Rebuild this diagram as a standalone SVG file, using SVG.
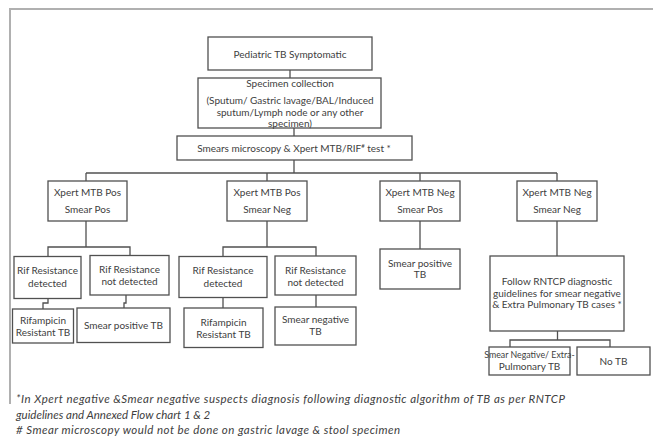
<svg xmlns="http://www.w3.org/2000/svg" width="653" height="436" viewBox="0 0 653 436">
<style>
.frame{fill:none;stroke:#b0b0b0;stroke-width:2}
.box{fill:#fff;stroke:#505050;stroke-width:1.3}
.ln{fill:none;stroke:#505050;stroke-width:1.3}
.t{font-family:Lato,"Open Sans",sans-serif;font-size:10px;fill:#404040;text-anchor:middle;dominant-baseline:central}
.sm{font-size:8.8px}
.fn{font-family:Lato,"Open Sans",sans-serif;font-style:italic;font-size:11.5px;fill:#404040;dominant-baseline:central}
</style>
<rect width="653" height="436" fill="#fff"/>
<polyline class="frame" points="10,404 10,9 653,9"/>
<g id="connectors">
<line class="ln" x1="290" y1="70" x2="290" y2="78"/>
<line class="ln" x1="294" y1="128" x2="294" y2="136"/>
<line class="ln" x1="294" y1="160" x2="294" y2="173"/>
<line class="ln" x1="86" y1="173" x2="557" y2="173"/>
<line class="ln" x1="86" y1="173" x2="86" y2="181"/>
<line class="ln" x1="267" y1="173" x2="267" y2="181"/>
<line class="ln" x1="420" y1="173" x2="420" y2="181"/>
<line class="ln" x1="557" y1="173" x2="557" y2="181"/>
<polyline class="ln" points="86,221 86,247"/>
<polyline class="ln" points="48,256 48,247 130,247 130,256"/>
<polyline class="ln" points="267,221 267,247"/>
<polyline class="ln" points="223,256 223,247 316,247 316,256"/>
<line class="ln" x1="420" y1="221" x2="420" y2="249"/>
<line class="ln" x1="557" y1="221" x2="557" y2="256"/>
<polyline class="ln" points="48,298 48,303 43,303 43,309"/>
<polyline class="ln" points="126,295 126,303 124,303 124,308"/>
<line class="ln" x1="223" y1="297" x2="223" y2="308"/>
<line class="ln" x1="316" y1="295" x2="316" y2="307"/>
<line class="ln" x1="557.5" y1="331" x2="557.5" y2="340"/>
<polyline class="ln" points="510,347 510,340 610,340 610,347"/>
</g>
<g id="n-symptomatic">
<rect class="box" x="208" y="37" width="164" height="33"/>
<text class="t" x="290" y="54">Pediatric TB Symptomatic</text>
</g>
<g id="n-specimen">
<rect class="box" x="198" y="78" width="183" height="50"/>
<text class="t" x="290" y="83">Specimen  collection</text>
<text class="t" x="290" y="100">(Sputum/ Gastric lavage/BAL/Induced</text>
<text class="t" x="290" y="111.7">sputum/Lymph node or any other</text>
<text class="t" x="290" y="123.3">specimen)</text>
</g>
<g id="n-test">
<rect class="box" x="177" y="136" width="235" height="24"/>
<text class="t" x="294" y="148">Smears microscopy &amp; Xpert MTB/RIF<tspan style="font-size:6px" dy="-3">#</tspan><tspan dy="3"> test *</tspan></text>
</g>
<g id="n-pos-pos">
<rect class="box" x="48" y="181" width="79" height="40"/>
<text class="t" x="87.5" y="192">Xpert MTB Pos</text>
<text class="t" x="87.5" y="209">Smear Pos</text>
</g>
<g id="n-pos-neg">
<rect class="box" x="227" y="181" width="80" height="40"/>
<text class="t" x="267" y="192">Xpert MTB Pos</text>
<text class="t" x="267" y="209">Smear Neg</text>
</g>
<g id="n-neg-pos">
<rect class="box" x="380" y="181" width="80" height="40"/>
<text class="t" x="420" y="192">Xpert MTB Neg</text>
<text class="t" x="420" y="209">Smear Pos</text>
</g>
<g id="n-neg-neg">
<rect class="box" x="517" y="181" width="80" height="40"/>
<text class="t" x="557" y="192">Xpert MTB Neg</text>
<text class="t" x="557" y="209">Smear Neg</text>
</g>
<g id="n-rif-det-1">
<rect class="box" x="14" y="256.5" width="67" height="42"/>
<text class="t" x="47.5" y="270">Rif Resistance</text>
<text class="t" x="47.5" y="282.5">detected</text>
</g>
<g id="n-rif-notdet-1">
<rect class="box" x="90" y="255.5" width="79" height="39.5"/>
<text class="t" x="129.5" y="269">Rif  Resistance</text>
<text class="t" x="129.5" y="281">not detected</text>
</g>
<g id="n-rif-det-2">
<rect class="box" x="179" y="256.5" width="88" height="41"/>
<text class="t" x="223" y="270">Rif Resistance</text>
<text class="t" x="223" y="282.5">detected</text>
</g>
<g id="n-rif-notdet-2">
<rect class="box" x="275" y="256" width="81" height="39"/>
<text class="t" x="315.5" y="270">Rif Resistance</text>
<text class="t" x="315.5" y="281.5">not detected</text>
</g>
<g id="n-smearpos-3">
<rect class="box" x="380" y="249" width="80" height="40"/>
<text class="t" x="420" y="263">Smear positive</text>
<text class="t" x="420" y="273.5">TB</text>
</g>
<g id="n-follow">
<rect class="box" x="490" y="256" width="134" height="75"/>
<text class="t" x="557" y="281">Follow  RNTCP diagnostic</text>
<text class="t" x="557" y="292.5">guidelines for smear negative</text>
<text class="t" x="557" y="304">&amp; Extra Pulmonary TB cases *</text>
</g>
<g id="n-rifres-1">
<rect class="box" x="12.5" y="309" width="61" height="34"/>
<text class="t" x="43" y="319.5">Rifampicin</text>
<text class="t" x="43" y="331.5">Resistant TB</text>
</g>
<g id="n-smearpos-1">
<rect class="box" x="77" y="308" width="93" height="34.5"/>
<text class="t" x="123.5" y="325">Smear positive TB</text>
</g>
<g id="n-rifres-2">
<rect class="box" x="184" y="308" width="79" height="39.5"/>
<text class="t" x="223.5" y="321.5">Rifampicin</text>
<text class="t" x="223.5" y="334">Resistant TB</text>
</g>
<g id="n-smearneg-2">
<rect class="box" x="275" y="307" width="81" height="38"/>
<text class="t" x="315.5" y="318.5">Smear negative</text>
<text class="t" x="315.5" y="330.5">TB</text>
</g>
<g id="n-smearneg-ep">
<rect class="box" x="489" y="347" width="81" height="28"/>
<text class="t sm" x="529.5" y="354.5">Smear Negative/ Extra-</text>
<text class="t" x="529.5" y="365.5">Pulmonary TB</text>
</g>
<g id="n-notb">
<rect class="box" x="577" y="347" width="73" height="28"/>
<text class="t" x="613.5" y="361">No TB</text>
</g>
<g id="footnote">
<text class="fn" x="16" y="398" textLength="549">*In Xpert negative &amp;Smear negative suspects diagnosis following diagnostic algorithm of TB as per RNTCP</text>
<text class="fn" x="16" y="414">guidelines and Annexed Flow chart 1 &amp; 2</text>
<text class="fn" x="16" y="429.5" textLength="384"># Smear microscopy would not be done on gastric lavage &amp; stool specimen</text>
</g>
</svg>
